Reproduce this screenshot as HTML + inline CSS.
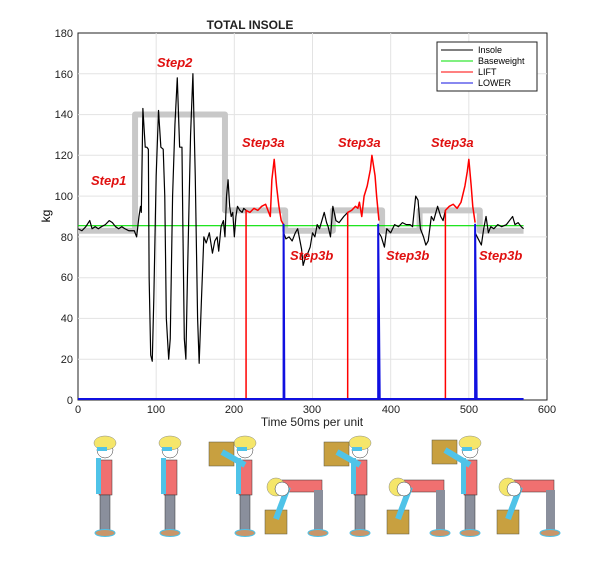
<!DOCTYPE html>
<html><head><meta charset="utf-8"><style>
body{margin:0;background:#fff;width:600px;height:563px;overflow:hidden}
svg{display:block}
text{font-family:"Liberation Sans",sans-serif}
.s{vector-effect:non-scaling-stroke;fill:none;stroke-linejoin:round}
</style></head><body>
<svg width="600" height="563" viewBox="0 0 600 563">
<rect x="78" y="33" width="469" height="367" fill="#fff" stroke="#222" stroke-width="1"/>
<g stroke="#e3e3e3" stroke-width="1">
<line x1="156.2" y1="33" x2="156.2" y2="400"/><line x1="234.3" y1="33" x2="234.3" y2="400"/><line x1="312.5" y1="33" x2="312.5" y2="400"/><line x1="390.7" y1="33" x2="390.7" y2="400"/><line x1="468.8" y1="33" x2="468.8" y2="400"/>
<line x1="78" y1="359.2" x2="547" y2="359.2"/><line x1="78" y1="318.4" x2="547" y2="318.4"/><line x1="78" y1="277.7" x2="547" y2="277.7"/><line x1="78" y1="236.9" x2="547" y2="236.9"/><line x1="78" y1="196.1" x2="547" y2="196.1"/><line x1="78" y1="155.3" x2="547" y2="155.3"/><line x1="78" y1="114.6" x2="547" y2="114.6"/><line x1="78" y1="73.8" x2="547" y2="73.8"/>
</g>
<g font-size="11" fill="#222" text-anchor="end">
<text x="73" y="404">0</text><text x="73" y="363">20</text><text x="73" y="322">40</text><text x="73" y="281">60</text><text x="73" y="241">80</text><text x="73" y="200">100</text><text x="73" y="159">120</text><text x="73" y="118">140</text><text x="73" y="78">160</text><text x="73" y="37">180</text>
</g>
<g font-size="11" fill="#222" text-anchor="middle">
<text x="78" y="413">0</text><text x="156" y="413">100</text><text x="234" y="413">200</text><text x="312" y="413">300</text><text x="391" y="413">400</text><text x="469" y="413">500</text><text x="547" y="413">600</text>
<text x="312" y="426" font-size="12">Time 50ms per unit</text>
<text x="250" y="29" font-size="12" font-weight="bold">TOTAL INSOLE</text>
</g>
<text x="50" y="216" font-size="12" text-anchor="middle" transform="rotate(-90 50 216)">kg</text>
<g transform="translate(78,400) scale(0.7817,-2.039)">
<path class="s" stroke="#c8c8c8" stroke-width="6" d="M0 83 H73 V140 H188 V93 H265 V83 H326 V93 H389 V83 H437 V93 H514 V83 H570"/>
<line class="s" x1="0" y1="85.5" x2="570" y2="85.5" stroke="#00e000" stroke-width="1.2"/>
<path class="s" stroke="#000" stroke-width="1.2" d="M0 84 L5 83 L10 85 L15 88 L18 84 L22 85 L26 84 L30 85 L35 86 L40 88 L44 87 L48 85 L52 84 L56 85 L60 84 L65 83 L72 83 L75 80 L78 90 L80 95 L81 92 L83 143 L86 124 L88 124 L90 123 L91 60 L93 22 L95 19 L97 50 L100 110 L103 142 L106 124 L109 123 L111 100 L113 40 L116 20 L118 30 L121 100 L124 135 L127 158 L130 124 L133 124 L134 90 L136 30 L138 20 L140 60 L144 130 L147 160 L150 110 L153 40 L155 18 L158 50 L161 80 L164 77 L168 82 L172 72 L175 78 L178 80 L180 73 L183 85 L186 88 L188 80 L190 100 L192 108 L194 95 L196 90 L198 92 L200 80 L202 90 L204 95 L207 93 L210 92 L212 94 L215 93"/>
<path class="s" stroke="#000" stroke-width="1.2" d="M263 82 L266 79 L270 80 L274 78 L278 82 L281 84 L284 78 L286 74 L288 66 L291 70 L294 72 L297 75 L300 82 L303 80 L306 86 L309 84 L312 88 L315 92 L318 87 L320 85 L323 80 L326 95 L330 88 L334 87 L340 90 L345 92"/>
<path class="s" stroke="#000" stroke-width="1.2" d="M385 82 L388 80 L392 75 L395 84 L400 82 L405 86 L410 85 L415 87 L420 86 L425 86 L428 85 L432 100 L435 98 L438 84 L442 80 L445 76 L448 78 L452 90 L455 88 L460 95 L464 90 L467 88 L470 93"/>
<path class="s" stroke="#000" stroke-width="1.2" d="M508 82 L512 79 L516 76 L519 84 L522 90 L525 82 L528 85 L532 84 L537 86 L542 85 L548 86 L552 88 L556 90 L559 86 L563 87 L567 85 L570 84"/>
<path class="s" stroke="#ff0000" stroke-width="1.5" d="M215 0 V93 L220 92 L225 94 L230 93 L235 95 L240 96 L243 93 L246 90 L248 108 L251 118 L254 105 L257 95 L260 88 L263 86"/>
<path class="s" stroke="#ff0000" stroke-width="1.5" d="M345 0 V92 L350 93 L355 95 L358 94 L360 97 L363 90 L366 100 L370 105 L374 113 L376 120 L380 110 L382 100 L385 88"/>
<path class="s" stroke="#ff0000" stroke-width="1.5" d="M470 0 V93 L475 95 L480 96 L485 94 L490 97 L495 105 L498 112 L500 118 L503 105 L505 95 L508 87"/>
<path class="s" stroke="#1010e0" stroke-width="2" d="M0 0.5 H263 V86 L264 0.5 H384 V86 L386 0.5 H508 V86 L510 0.5 H570"/>
</g>
<g font-size="13" font-weight="bold" font-style="italic" fill="#e01010">
<text x="91" y="185">Step1</text><text x="157" y="67">Step2</text>
<text x="242" y="147">Step3a</text><text x="338" y="147">Step3a</text><text x="431" y="147">Step3a</text>
<text x="290" y="260">Step3b</text><text x="386" y="260">Step3b</text><text x="479" y="260">Step3b</text>
</g>
<rect x="437" y="42" width="100" height="49" fill="#fff" stroke="#222" stroke-width="1"/>
<g font-size="9" fill="#000">
<line x1="441" y1="50" x2="473" y2="50" stroke="#000"/><text x="478" y="53">Insole</text>
<line x1="441" y1="61" x2="473" y2="61" stroke="#00e000"/><text x="478" y="64">Baseweight</text>
<line x1="441" y1="72" x2="473" y2="72" stroke="#f00"/><text x="478" y="75">LIFT</text>
<line x1="441" y1="83" x2="473" y2="83" stroke="#1010e0"/><text x="478" y="86">LOWER</text>
</g>
<defs>
<g id="stand">
<rect x="-6" y="-60" width="13" height="35" fill="#f07070" stroke="#333" stroke-width="0.5"/>
<rect x="-9" y="-62" width="5" height="36" fill="#4fc3e8"/>
<rect x="-5" y="-25" width="10" height="37" fill="#8a8f9c" stroke="#333" stroke-width="0.5"/>
<ellipse cx="0" cy="13" rx="10" ry="3.5" fill="#c8966a" stroke="#4fc3e8"/>
<circle cx="0" cy="-70" r="8" fill="#fff" stroke="#333" stroke-width="0.5"/>
<ellipse cx="0" cy="-77" rx="11" ry="7" fill="#f5e66a" stroke="#888" stroke-width="0.5"/>
<rect x="-8" y="-73" width="10" height="4" fill="#4fc3e8"/>
</g>
<g id="bent">
<rect x="-8" y="-45" width="40" height="12" fill="#f07070" stroke="#333" stroke-width="0.5"/>
<rect x="24" y="-35" width="9" height="42" fill="#8a8f9c"/>
<ellipse cx="28" cy="8" rx="10" ry="3.5" fill="#c8966a" stroke="#4fc3e8"/>
<rect x="-25" y="-15" width="22" height="24" fill="#c8a040" stroke="#554" stroke-width="0.5"/>
<path d="M-2 -38 L-14 -6" stroke="#4fc3e8" stroke-width="6"/>
<circle cx="-14" cy="-38" r="9" fill="#f5e66a" stroke="#888" stroke-width="0.5"/>
<circle cx="-8" cy="-36" r="7" fill="#fff" stroke="#333" stroke-width="0.5"/>
</g>
</defs>
<use href="#stand" x="105" y="520"/>
<use href="#stand" x="170" y="520"/>
<use href="#stand" x="245" y="520"/><rect x="209" y="442" width="25" height="24" fill="#c8a040" stroke="#554" stroke-width="0.5"/><path d="M222 452 L245 465" stroke="#4fc3e8" stroke-width="6"/>
<use href="#bent" x="290" y="525"/>
<use href="#stand" x="360" y="520"/><rect x="324" y="442" width="25" height="24" fill="#c8a040" stroke="#554" stroke-width="0.5"/><path d="M337 452 L360 465" stroke="#4fc3e8" stroke-width="6"/>
<use href="#bent" x="412" y="525"/>
<use href="#stand" x="470" y="520"/><rect x="432" y="440" width="25" height="24" fill="#c8a040" stroke="#554" stroke-width="0.5"/><path d="M445 450 L470 465" stroke="#4fc3e8" stroke-width="6"/>
<use href="#bent" x="522" y="525"/>
</svg>
</body></html>
